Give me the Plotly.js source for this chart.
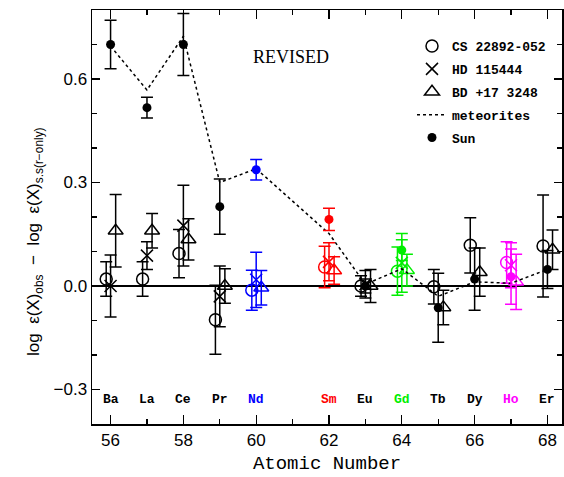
<!DOCTYPE html>
<html>
<head>
<meta charset="utf-8">
<script src="https://cdn.plot.ly/plotly-3.0.1.min.js"></script>
<style>html,body{margin:0;padding:0;background:#fff;}#chart{width:564px;height:477px;}</style>
</head>
<body>
<div id="chart"></div>
<script>
// ---- data ----
const elements = ['Ba','La','Ce','Pr','Nd','Sm','Eu','Gd','Tb','Dy','Ho','Er'];
const atomicNumber = [56,57,58,59,60,62,63,64,65,66,67,68];
const elementColors = ['black','black','black','black','blue','red','black','#00ee00','black','black','magenta','black'];

const cs22892 =    [0.020, 0.020, 0.094, -0.098, -0.012, 0.055, 0.000, 0.043, -0.002, 0.118, 0.068, 0.116];
const cs22892Err = [0.050, 0.050, 0.070,  0.100,  0.058, 0.060, 0.030, 0.070,  0.050, 0.080, 0.060, 0.148];

const hd115444 =    [0.000, 0.088, 0.175, -0.030, 0.018, 0.070, 0.005, 0.067, null, null, 0.060, null];
const hd115444Err = [0.090, 0.040, 0.117,  0.088, 0.080, 0.055, 0.040, 0.085, null, null, 0.065, null];

const bd173248 =    [0.160, 0.160, 0.135, 0.000, -0.005, 0.045, 0.000, 0.046, -0.062, 0.040, 0.012, 0.105];
const bd173248Err = [0.105, 0.050, 0.060, 0.050,  0.050, 0.040, 0.048, 0.046,  0.050, 0.070, 0.080, 0.057];

const sun =    [0.700, 0.517, 0.700, 0.230, 0.337, 0.193, 0.000, 0.104, -0.063, 0.020, 0.027, 0.048];
const sunErr = [0.070, 0.030, 0.090, 0.080, 0.030, 0.032, 0.020, 0.030,  0.100, 0.090, 0.080, 0.055];

const meteorites = [0.695, 0.568, 0.724, 0.300, 0.340, 0.152, 0.005, 0.050, -0.030, 0.012, 0.008, 0.048];

// ---- styling / layout ----
const xShift = {cs: -0.12, hd: 0.0, bd: 0.14, sun: 0.0};
const traces = [];

function addStar(name, vals, errs, shift, symbol, size, lw) {
  const colors = [...new Set(elementColors)];
  colors.forEach(function(c) {
    const idx = [];
    vals.forEach(function(v, i) { if (v !== null && elementColors[i] === c) idx.push(i); });
    if (!idx.length) return;
    traces.push({
      type: 'scatter', mode: 'markers', name: name, legendgroup: name,
      showlegend: c === 'black',
      x: idx.map(i => atomicNumber[i] + shift),
      y: idx.map(i => vals[i]),
      error_y: {type: 'data', array: idx.map(i => errs[i]), color: c, thickness: 1.5, width: 6},
      marker: {symbol: symbol, size: size, color: c, line: {color: c, width: lw}},
      hoverinfo: 'skip'
    });
  });
}

addStar('CS 22892-052', cs22892, cs22892Err, xShift.cs, 'circle-open', 12, 1.5);
addStar('HD 115444', hd115444, hd115444Err, xShift.hd, 'x-thin-open', 12, 1.5);
addStar('BD +17 3248', bd173248, bd173248Err, xShift.bd, 'triangle-up-open', 13, 1.5);

traces.push({
  type: 'scatter', mode: 'lines', name: 'meteorites', legendgroup: 'meteorites',
  x: atomicNumber, y: meteorites,
  line: {color: 'black', width: 1.5, dash: 'dot'}, hoverinfo: 'skip'
});

addStar('Sun', sun, sunErr, xShift.sun, 'circle', 9, 0);

const monoFont = 'Liberation Mono, Courier New, monospace';

const annotations = elements.map(function(el, i) {
  return {
    x: atomicNumber[i], y: -0.33, xref: 'x', yref: 'y', text: el, showarrow: false,
    font: {family: monoFont, size: 13, color: elementColors[i], weight: 'bold'}
  };
});
annotations.push({
  xref: 'paper', yref: 'paper', x: (291 - 92) / 470, y: 1 - (45 - 10) / 414,
  text: 'REVISED', showarrow: false,
  font: {family: 'Liberation Serif, Times New Roman, serif', size: 18, color: 'black'}
});
annotations.push({
  xref: 'paper', yref: 'paper', x: (22 - 92) / 470, y: 1 - (242 - 10) / 414,
  text: 'log  ε(X)<sub>obs</sub>  −  log  ε(X)<sub>s.s(r−only)</sub>', showarrow: false, textangle: -90,
  font: {family: 'Liberation Sans, Arial, sans-serif', size: 17, color: 'black'}
});

const layout = {
  width: 564, height: 477,
  margin: {l: 92, r: 2, t: 10, b: 53},
  paper_bgcolor: 'white', plot_bgcolor: 'white',
  showlegend: true,
  legend: {
    x: (412 - 92) / 470, y: 1 - (31 - 10) / 414, xanchor: 'left', yanchor: 'top',
    bgcolor: 'rgba(0,0,0,0)', borderwidth: 0, tracegroupgap: 3, itemwidth: 30,
    font: {family: monoFont, size: 13, color: 'black', weight: 'bold'}
  },
  xaxis: {
    range: [55.49, 68.4], tick0: 56, dtick: 2, ticks: 'inside', ticklen: 9, tickwidth: 1.2,
    tickcolor: 'black', showline: true, linecolor: 'black', linewidth: 1.5, mirror: 'allticks',
    showgrid: false, zeroline: false,
    minor: {dtick: 1, ticks: 'inside', ticklen: 5, tickwidth: 1.2, tickcolor: 'black', showgrid: false},
    tickfont: {family: 'Liberation Sans, Arial, sans-serif', size: 17, color: 'black'},
    title: {text: 'Atomic Number', standoff: 7,
      font: {family: monoFont, size: 19, color: 'black'}}
  },
  yaxis: {
    range: [-0.4, 0.8], tick0: 0, dtick: 0.3, tickformat: '.1f', ticks: 'inside', ticklen: 8,
    tickwidth: 1.2, tickcolor: 'black', showline: true, linecolor: 'black', linewidth: 1.5,
    mirror: 'allticks', showgrid: false,
    zeroline: true, zerolinecolor: 'black', zerolinewidth: 1.2,
    minor: {dtick: 0.1, ticks: 'inside', ticklen: 5, tickwidth: 1.2, tickcolor: 'black', showgrid: false},
    tickfont: {family: 'Liberation Sans, Arial, sans-serif', size: 17, color: 'black'}
  },
  annotations: annotations
};

Plotly.newPlot('chart', traces, layout, {staticPlot: true, displayModeBar: false});
</script>
</body>
</html>
